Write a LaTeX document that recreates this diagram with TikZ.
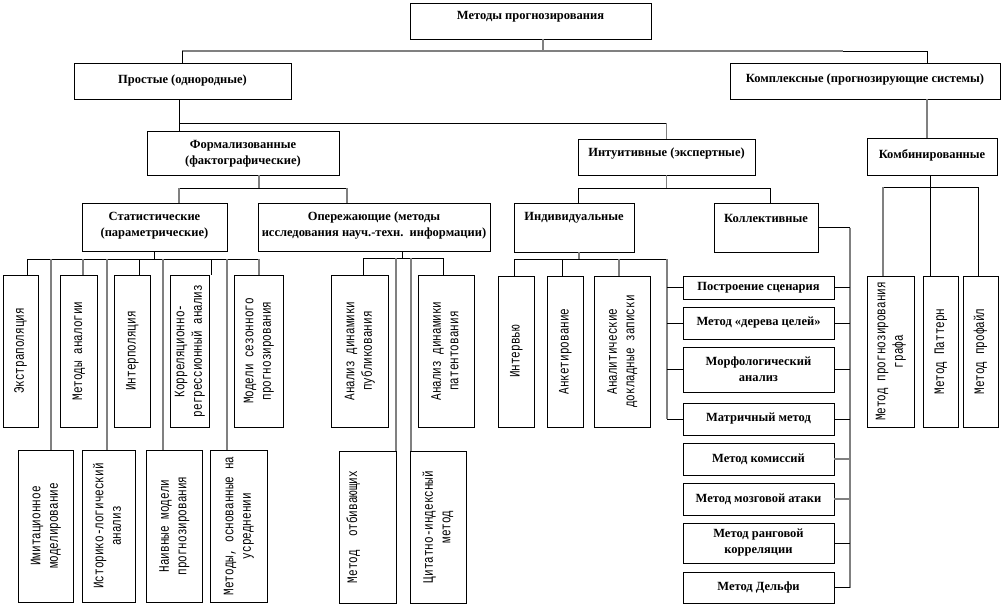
\documentclass[tikz,border=0pt]{standalone}
\usepackage{fontspec}
\usepackage{graphicx}
\setmainfont{Liberation Serif}
\newfontfamily\monof{Liberation Mono}
\newcommand\hb[7]{%
  \node[box,minimum width={(#4-#2)*1pt},minimum height={(#5-#3)*1pt}] (#1) at ({(#2+#4)/2},{(#3+#5)/2}) {};
  \node[htxt] at ([yshift={-(#6)*1pt}]#1.center) {#7};}
\newcommand\vb[7]{%
  \node[box,minimum width={(#4-#2)*1pt},minimum height={(#5-#3)*1pt}] (#1) at ({(#2+#4)/2},{(#3+#5)/2}) {};
  \node[vtxt] at ([xshift={(#6)*1pt}]#1.center) {\scalebox{0.76}[1]{\begin{tabular}{@{}c@{}}#7\end{tabular}}};}
\begin{document}
\begin{tikzpicture}[x=1pt,y=-1pt,
  box/.style={draw=black,line width=0.8pt,inner sep=0pt,outer sep=0pt,fill=white},
  htxt/.style={font=\bfseries\fontsize{12.5}{16}\selectfont,align=center,inner sep=0pt},
  vtxt/.style={rotate=90,font=\monof\fontsize{14.5}{17.5}\selectfont,inner sep=0pt},
  bl/.style={draw=black,line width=0.9pt},
  gl/.style={draw=black!50,line width=1.4pt}]
\useasboundingbox (0,0) rectangle (1002,606);

% ---- horizontal boxes
\hb{top}{410}{3}{651}{39}{-4}{Методы прогнозирования}
\hb{prost}{74}{63}{291}{99}{-1}{Простые (однородные)}
\hb{kompl}{730}{63}{1000}{99}{-1}{Комплексные (прогнозирующие системы)}
\hb{form}{147}{131}{339}{175}{1}{Формализованные\\(фактографические)}
\hb{intuit}{578}{139}{755}{175}{-3}{Интуитивные (экспертные)}
\hb{komb}{867}{138}{997}{175}{-1}{Комбинированные}
\hb{stat}{82}{203}{227}{251}{-1}{Статистические\\(параметрические)}
\hb{oper}{258}{203}{490}{251}{-1}{Опережающие (методы\\исследования науч.-техн.~~информации)}
\hb{indiv}{514}{203}{634}{252}{-9.5}{Индивидуальные}
\hb{koll}{714}{203}{818}{252}{-9.5}{Коллективные}
\hb{m1}{683}{276}{834}{299}{0}{Построение сценария}
\hb{m2}{683}{307}{834}{339}{0}{Метод «дерева целей»}
\hb{m3}{683}{347}{834}{392}{0}{Морфологический\\анализ}
\hb{m4}{683}{403}{834}{435}{0}{Матричный метод}
\hb{m5}{683}{443}{834}{475}{0}{Метод комиссий}
\hb{m6}{683}{483}{834}{515}{0}{Метод мозговой атаки}
\hb{m7}{683}{523}{834}{563}{0}{Метод ранговой\\корреляции}
\hb{m8}{683}{572}{834}{603}{0}{Метод Дельфи}

% ---- vertical boxes, upper row
\vb{ex}{3}{275}{38}{427}{0}{Экстраполяция}
\vb{an}{60}{275}{97}{427}{0}{Методы аналогии}
\vb{inp}{114}{275}{150}{427}{0}{Интерполяция}
\vb{kor}{170}{275}{209}{427}{0}{Корреляционно-\\регрессионный анализ}
\vb{sez}{234}{275}{283}{427}{0}{Модели сезонного\\прогнозирования}
\vb{pub}{331}{275}{388}{427}{0}{Анализ динамики\\публикования}
\vb{pat}{418}{275}{474}{427}{0}{Анализ динамики\\патентования}
\vb{intv}{498}{276}{534}{427}{0}{Интервью}
\vb{ank}{547}{276}{583}{427}{0}{Анкетирование}
\vb{adz}{594}{276}{650}{427}{0}{Аналитические\\докладные записки}
\vb{graf}{867}{276}{914}{427}{0}{Метод прогнозирования\\графа}
\vb{patt}{923}{276}{958}{427}{0}{Метод Паттерн}
\vb{prof}{963}{276}{998}{427}{0}{Метод профайл}
% ---- vertical boxes, lower row
\vb{imit}{18}{450}{73}{602}{0}{Имитационное\\моделирование}
\vb{ist}{82}{450}{135}{602}{0}{Историко-логический\\анализ}
\vb{naiv}{146}{450}{202}{602}{0}{Наивные модели\\прогнозирования}
\vb{usr}{210}{450}{267}{602}{0}{Методы, основанные на\\усреднении}
\vb{otb}{339}{451}{396}{603}{-14}{Метод~~отбивающих}
\vb{cit}{410}{451}{466}{603}{0}{Цитатно-индексный\\метод}

% ---- level 0
\coordinate (t0) at ([xshift=12.5pt]top.south);
\coordinate (a0) at (182,51); \coordinate (a1) at (843,51); \coordinate (a2) at (927,51);
\draw[gl] (t0) -- (t0 |- a0);
\draw[gl] (a0) -- (a1);
\draw[bl] (a1) -- (a2) -- (a2 |- kompl.north);
\draw[bl] (a0) -- (a0 |- prost.north);

% ---- level 1
\coordinate (b0) at (179,123);
\draw[bl] (b0 |- prost.south) -- (b0 |- form.north);
\draw[bl] (b0) -- (b0 -| intuit.north);
\draw[gl] (b0 -| intuit.north) -- (intuit.north);
\draw[gl] (a2 |- kompl.south) -- (a2 |- komb.north);

% ---- formalized children
\coordinate (c0) at (259,188); \coordinate (c1) at (179,188); \coordinate (c2) at (347,188);
\draw[gl] (c0 |- form.south) -- (c0);
\draw[bl] (c1) -- (c2);
\draw[gl] (c1) -- (c1 |- stat.north);
\draw[gl] (c2) -- (c2 |- oper.north);

% ---- intuitive children
\coordinate (e1) at (578,188); \coordinate (e2) at (770,188);
\draw[gl] (intuit.south) -- (intuit.south |- e1);
\draw[bl] (e1) -- (e2);
\draw[bl] (e1) -- (e1 |- indiv.north);
\draw[bl] (e2) -- (e2 |- koll.north);

% ---- statistical children
\coordinate (s1) at (27,259); \coordinate (s2) at (83,259); \coordinate (s3) at (139,259);
\coordinate (s4) at (211,259); \coordinate (s5) at (259,259);
\draw[bl] (stat.south) -- (stat.south |- s1);
\draw[bl] (s1) -- (s5);
\draw[bl] (s1) -- (s1 |- ex.north);
\draw[gl] (s2) -- (s2 |- an.north);
\draw[bl] (s3) -- (s3 |- inp.north);
\draw[bl] (s4) -- (s4 |- kor.north);
\draw[gl] (s5) -- (s5 |- sez.north);
\coordinate (l1) at (51,259); \coordinate (l2) at (107,259);
\coordinate (l3) at (163,259); \coordinate (l4) at (227,259);
\draw[gl] (l1) -- (l1 |- imit.north);
\draw[gl] (l2) -- (l2 |- ist.north);
\draw[gl] (l3) -- (l3 |- naiv.north);
\draw[gl] (l4) -- (l4 |- usr.north);

% ---- leading children
\coordinate (o0) at (402,258); \coordinate (o1) at (363,258); \coordinate (o2) at (443,258);
\coordinate (o3) at (396,258); \coordinate (o4) at (411,258);
\draw[bl] (o0 |- oper.south) -- (o0);
\draw[bl] (o1) -- (o2);
\draw[bl] (o1) -- (o1 |- pub.north);
\draw[bl] (o2) -- (o2 |- pat.north);
\draw[gl] (o3) -- (o3 |- otb.north);
\draw[gl] (o4) -- (o4 |- cit.north);

% ---- individual children
\coordinate (i0) at (579,259); \coordinate (i1) at (514,259); \coordinate (i2) at (562,259);
\coordinate (i3) at (619,259); \coordinate (i4) at (667,259);
\draw[gl] (i0 |- indiv.south) -- (i0);
\draw[bl] (i1) -- (i4);
\draw[bl] (i1) -- (i1 |- intv.north);
\draw[bl] (i2) -- (i2 |- ank.north);
\draw[gl] (i3) -- (i3 |- adz.north);
\draw[gl] (i4) -- (i4 |- m4.west);
\draw[bl] (i4 |- m1.west) -- (m1.west);
\draw[bl] (i4 |- m2.west) -- (m2.west);
\draw[bl] (i4 |- m3.west) -- (m3.west);
\draw[bl] (i4 |- m4.west) -- (m4.west);

% ---- collective children
\coordinate (k0) at (850,227);
\draw[bl] (koll.east) -- (koll.east -| k0);
\draw[gl] (koll.east -| k0) -- (k0 |- m8.east);
\draw[bl] (m1.east) -- (m1.east -| k0);
\draw[bl] (m2.east) -- (m2.east -| k0);
\draw[bl] (m3.east) -- (m3.east -| k0);
\draw[bl] (m4.east) -- (m4.east -| k0);
\draw[gl] (m5.east) -- (m5.east -| k0);
\draw[gl] (m6.east) -- (m6.east -| k0);
\draw[bl] (m7.east) -- (m7.east -| k0);
\draw[bl] (m8.east) -- (m8.east -| k0);

% ---- combined children
\coordinate (q0) at (930,187); \coordinate (q1) at (883,187); \coordinate (q2) at (978,187);
\draw[bl] (q0 |- komb.south) -- (q0 |- patt.north);
\draw[bl] (q1) -- (q2);
\draw[gl] (q1) -- (q1 |- graf.north);
\draw[bl] (q2) -- (q2 |- prof.north);
\end{tikzpicture}
\end{document}
